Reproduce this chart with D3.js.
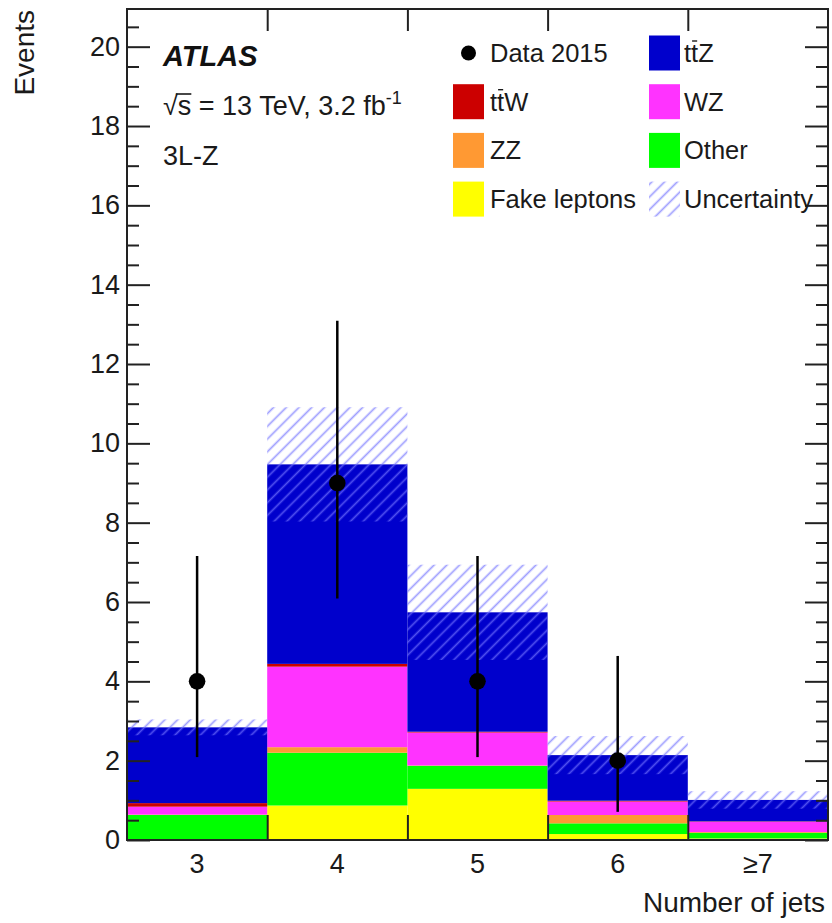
<!DOCTYPE html>
<html>
<head>
<meta charset="utf-8">
<script src="https://cdn.jsdelivr.net/npm/d3@7"></script>
<style>
  html, body { margin: 0; padding: 0; background: #fff; }
  svg { display: block; font-family: "Liberation Sans", Arial, Helvetica, sans-serif; }
</style>
</head>
<body>
<svg id="chart" width="832" height="923"></svg>
<script>
/* 3L-Z region: jet multiplicity, stacked backgrounds + data */

const categories = ["3", "4", "5", "6", "≥7"];

// stacked from bottom to top
const fakeLeptons = [0.02, 0.87, 1.29, 0.15, 0.04];
const other       = [0.61, 1.33, 0.58, 0.27, 0.14];
const zz          = [0.01, 0.14, 0.01, 0.21, 0.02];
const wz          = [0.20, 2.03, 0.83, 0.34, 0.26];
const ttw         = [0.09, 0.07, 0.02, 0.02, 0.01];
const ttz         = [1.91, 5.03, 3.01, 1.15, 0.54];
const uncertainty = [0.20, 1.44, 1.20, 0.48, 0.22];

const dataCounts = [4, 9, 4, 2, 0];
const dataLow    = [2.09, 6.09, 2.09, 0.71, 0];
const dataHigh   = [7.16, 13.09, 7.16, 4.64, 0];

const yMajorTicks = [0, 2, 4, 6, 8, 10, 12, 14, 16, 18, 20];

const SAMPLES = [
  { key: "fake",  name: "Fake leptons", color: "#ffff00", values: fakeLeptons },
  { key: "other", name: "Other",        color: "#00ff00", values: other },
  { key: "zz",    name: "ZZ",           color: "#ff9933", values: zz },
  { key: "wz",    name: "WZ",           color: "#ff33ff", values: wz },
  { key: "ttw",   name: "ttW",          color: "#cc0000", values: ttw },
  { key: "ttz",   name: "ttZ",          color: "#0000cc", values: ttz },
];

const margin = { top: 9, right: 4, bottom: 83, left: 127 };
const W = 832, H = 923;
const FONT = 27;

const svg = d3.select("#chart");

/* ---------- hatch pattern ---------- */
const defs = svg.append("defs");
defs.append("pattern")
  .attr("id", "hatch")
  .attr("patternUnits", "userSpaceOnUse")
  .attr("width", 9)
  .attr("height", 9)
  .attr("patternTransform", "rotate(45)")
  .append("line")
  .attr("x1", 4.5).attr("y1", 0)
  .attr("x2", 4.5).attr("y2", 9)
  .attr("stroke", "#7373ff")
  .attr("stroke-opacity", 0.7)
  .attr("stroke-width", 1.7);

/* ---------- scales ---------- */
const x = d3.scaleBand()
  .domain(categories)
  .range([margin.left, W - margin.right])
  .paddingInner(0).paddingOuter(0);
const xLin = d3.scaleLinear()
  .domain([0, categories.length])
  .range([margin.left, W - margin.right]);
const y = d3.scaleLinear()
  .domain([0, 20.95])
  .range([H - margin.bottom, margin.top]);

/* ---------- stacked bins ---------- */
const rows = categories.map((c, i) => {
  const r = { cat: c };
  SAMPLES.forEach(s => r[s.key] = s.values[i]);
  return r;
});
const stack = d3.stack().keys(SAMPLES.map(s => s.key))(rows);

const gStack = svg.append("g").attr("class", "stack");
stack.forEach((layer, li) => {
  gStack.append("g")
    .attr("fill", SAMPLES[li].color)
    .selectAll("rect")
    .data(layer)
    .join("rect")
    .attr("x", d => x(d.data.cat))
    .attr("width", x.bandwidth())
    .attr("y", d => y(d[1]))
    .attr("height", d => Math.max(0, y(d[0]) - y(d[1])));
});

// uncertainty band
const totals = categories.map((c, i) => d3.sum(SAMPLES, s => s.values[i]));
svg.append("g")
  .selectAll("rect")
  .data(categories)
  .join("rect")
  .attr("x", d => x(d))
  .attr("width", x.bandwidth())
  .attr("y", (d, i) => y(totals[i] + uncertainty[i]))
  .attr("height", (d, i) => y(totals[i] - uncertainty[i]) - y(totals[i] + uncertainty[i]))
  .attr("fill", "url(#hatch)");

/* ---------- data ---------- */
const pts = categories.map((c, i) => ({ c, v: dataCounts[i], lo: dataLow[i], hi: dataHigh[i] }))
  .filter(d => d.v > 0);
const gData = svg.append("g");
gData.selectAll("line")
  .data(pts)
  .join("line")
  .attr("x1", d => x(d.c) + x.bandwidth() / 2)
  .attr("x2", d => x(d.c) + x.bandwidth() / 2)
  .attr("y1", d => y(d.lo))
  .attr("y2", d => y(d.hi))
  .attr("stroke", "#000")
  .attr("stroke-width", 2.5);
gData.selectAll("circle")
  .data(pts)
  .join("circle")
  .attr("cx", d => x(d.c) + x.bandwidth() / 2)
  .attr("cy", d => y(d.v))
  .attr("r", 8.3)
  .attr("fill", "#000");

/* ---------- axes ---------- */
const minorTicks = d3.range(0, 21, 0.5).filter(v => v % 2 !== 0);
const boundaries = d3.range(1, categories.length);

function styleAxis(g) {
  g.select(".domain").remove();
  g.selectAll(".tick line").attr("stroke", "#222").attr("stroke-width", 2);
  g.selectAll("text")
    .attr("fill", "#1a1a1a")
    .style("font-size", FONT + "px")
    .style("font-family", '"Liberation Sans", Arial, sans-serif');
}

// left
svg.append("g")
  .attr("transform", `translate(${margin.left},0)`)
  .call(d3.axisLeft(y).tickValues(yMajorTicks).tickSizeInner(-23).tickSizeOuter(0).tickPadding(7))
  .call(styleAxis);
svg.append("g")
  .attr("transform", `translate(${margin.left},0)`)
  .call(d3.axisLeft(y).tickValues(minorTicks).tickSizeInner(-12).tickSizeOuter(0).tickFormat(""))
  .call(styleAxis);
// right
svg.append("g")
  .attr("transform", `translate(${W - margin.right},0)`)
  .call(d3.axisRight(y).tickValues(yMajorTicks).tickSizeInner(-23).tickSizeOuter(0).tickFormat(""))
  .call(styleAxis);
svg.append("g")
  .attr("transform", `translate(${W - margin.right},0)`)
  .call(d3.axisRight(y).tickValues(minorTicks).tickSizeInner(-12).tickSizeOuter(0).tickFormat(""))
  .call(styleAxis);
// bottom / top bin boundaries
svg.append("g")
  .attr("transform", `translate(0,${H - margin.bottom})`)
  .call(d3.axisBottom(xLin).tickValues(boundaries).tickSizeInner(-25).tickSizeOuter(0).tickFormat(""))
  .call(styleAxis);
svg.append("g")
  .attr("transform", `translate(0,${margin.top})`)
  .call(d3.axisTop(xLin).tickValues(boundaries).tickSizeInner(-22).tickSizeOuter(0).tickFormat(""))
  .call(styleAxis);
// category labels
svg.append("g")
  .attr("transform", `translate(0,${H - margin.bottom})`)
  .call(d3.axisBottom(x).tickSize(0).tickPadding(14))
  .call(styleAxis);

// frame
svg.append("rect")
  .attr("x", margin.left)
  .attr("y", margin.top)
  .attr("width", W - margin.left - margin.right)
  .attr("height", H - margin.top - margin.bottom)
  .attr("fill", "none")
  .attr("stroke", "#222")
  .attr("stroke-width", 2);

// axis titles
svg.append("text")
  .attr("transform", "translate(34,10) rotate(-90)")
  .attr("text-anchor", "end")
  .attr("fill", "#1a1a1a")
  .style("font-size", "28px")
  .text("Events");
svg.append("text")
  .attr("x", 825)
  .attr("y", 912)
  .attr("text-anchor", "end")
  .attr("fill", "#1a1a1a")
  .style("font-size", "28px")
  .text("Number of jets");

/* ---------- labels ---------- */
svg.append("text")
  .attr("x", 163).attr("y", 66)
  .attr("fill", "#111")
  .style("font-size", "29px")
  .style("font-weight", "bold")
  .style("font-style", "italic")
  .text("ATLAS");

const sq = svg.append("text")
  .attr("x", 163).attr("y", 115)
  .attr("fill", "#1a1a1a")
  .style("font-size", FONT + "px");
sq.append("tspan").text("√s = 13 TeV, 3.2 fb");
sq.append("tspan").attr("dy", -11).style("font-size", "18px").text("-1");
{
  const n = sq.node();
  const e0 = n.getExtentOfChar(0), e1 = n.getExtentOfChar(1);
  svg.append("line")
    .attr("x1", e0.x + e0.width - 2).attr("x2", e1.x + e1.width)
    .attr("y1", e0.y + 3).attr("y2", e0.y + 3)
    .attr("stroke", "#1a1a1a").attr("stroke-width", 1.6);
}

svg.append("text")
  .attr("x", 163).attr("y", 165)
  .attr("fill", "#1a1a1a")
  .style("font-size", FONT + "px")
  .text("3L-Z");

/* ---------- legend ---------- */
const LEG_FONT = 25.5;
const legendItems = [
  { name: "Data 2015", type: "data" },
  { name: "ttZ", type: "box", color: "#0000cc", bar: 1 },
  { name: "ttW", type: "box", color: "#cc0000", bar: 1 },
  { name: "WZ", type: "box", color: "#ff33ff" },
  { name: "ZZ", type: "box", color: "#ff9933" },
  { name: "Other", type: "box", color: "#00ff00" },
  { name: "Fake leptons", type: "box", color: "#ffff00" },
  { name: "Uncertainty", type: "hatch" },
];
const legCols = [453, 649];
const legRow0 = 35.5, legPitch = 48.7, boxW = 31, boxH = 35;

legendItems.forEach((it, i) => {
  const col = i % 2, row = Math.floor(i / 2);
  const bx = legCols[col], by = legRow0 + row * legPitch;
  const g = svg.append("g");
  if (it.type === "data") {
    g.append("circle").attr("cx", bx + boxW / 2).attr("cy", by + boxH / 2).attr("r", 7.5).attr("fill", "#000");
  } else if (it.type === "box") {
    g.append("rect").attr("x", bx).attr("y", by).attr("width", boxW).attr("height", boxH).attr("fill", it.color);
  } else {
    g.append("rect").attr("x", bx).attr("y", by).attr("width", boxW).attr("height", boxH).attr("fill", "url(#hatch)");
  }
  const t = g.append("text")
    .attr("x", bx + boxW + (col === 0 ? 6 : 4))
    .attr("y", by + boxH / 2 + 9)
    .attr("fill", "#1a1a1a")
    .style("font-size", LEG_FONT + "px")
    .text(it.name);
  if (it.bar) {
    const e = t.node().getExtentOfChar(it.bar);
    g.append("line")
      .attr("x1", e.x + 1).attr("x2", e.x + e.width - 1)
      .attr("y1", e.y + 2).attr("y2", e.y + 2)
      .attr("stroke", "#1a1a1a").attr("stroke-width", 1.4);
  }
});
</script>
</body>
</html>
